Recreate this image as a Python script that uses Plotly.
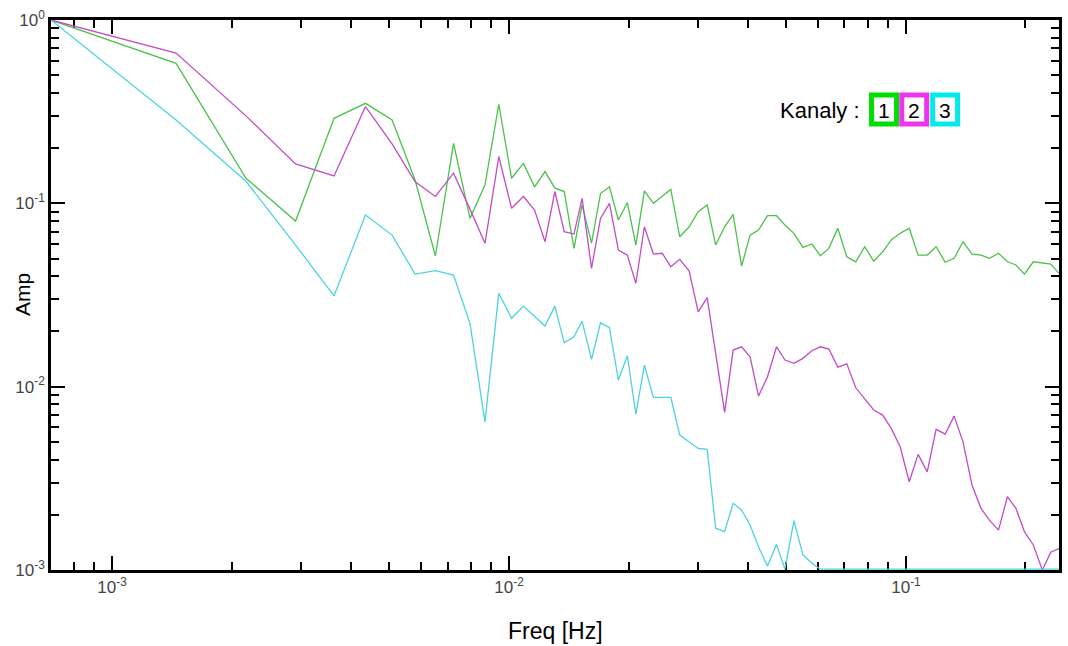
import math
import plotly.graph_objects as go

# ---------------- data ----------------
freq = [0.000702, 0.00145, 0.002175, 0.0029, 0.003625, 0.00435, 0.005075, 0.0058,
        0.006525, 0.00725, 0.007975, 0.0087, 0.009425, 0.01015, 0.010875, 0.0116,
        0.012325, 0.01305, 0.013775, 0.01458, 0.01528, 0.01614, 0.0170, 0.01791,
        0.01886, 0.01987, 0.02087, 0.02193, 0.0231, 0.02433, 0.02556, 0.02692,
        0.02844, 0.02996, 0.03157, 0.03316, 0.03493, 0.03669, 0.03854, 0.04048,
        0.04252, 0.04479, 0.04719, 0.04957, 0.05221, 0.0550, 0.05794, 0.06086,
        0.06393, 0.06734, 0.07094, 0.07473, 0.07872, 0.08293, 0.08736, 0.09177,
        0.0967, 0.1019, 0.1073, 0.1131, 0.1191, 0.1255, 0.1322, 0.1392,
        0.1467, 0.1545, 0.1623, 0.171, 0.1801, 0.1892, 0.1987, 0.2093,
        0.2205, 0.2316, 0.2429]

amp_ch1 = [1.0, 0.58, 0.137, 0.080, 0.291, 0.351, 0.285, 0.134,
           0.0516, 0.2125, 0.0828, 0.126, 0.347, 0.137, 0.165, 0.123,
           0.149, 0.121, 0.116, 0.0568, 0.098, 0.0607, 0.113, 0.123,
           0.0811, 0.101, 0.0592, 0.117, 0.100, 0.110, 0.119, 0.0657,
           0.0745, 0.090, 0.098, 0.0592, 0.0745, 0.0871, 0.0455, 0.0671,
           0.0715, 0.0856, 0.0856, 0.0761, 0.0686, 0.0575, 0.060, 0.0518,
           0.0568, 0.0731, 0.0511, 0.048, 0.058, 0.0484, 0.0544, 0.0631,
           0.0686, 0.0731, 0.0522, 0.0522, 0.058, 0.0477, 0.0501, 0.0617,
           0.0529, 0.0522, 0.0501, 0.0534, 0.048, 0.0461, 0.0411, 0.048,
           0.0471, 0.0466, 0.0415]

amp_ch2 = [1.0, 0.66, 0.30, 0.164, 0.141, 0.337, 0.211, 0.131,
           0.109, 0.146, 0.093, 0.0605, 0.180, 0.094, 0.109, 0.092,
           0.0617, 0.116, 0.070, 0.068, 0.1065, 0.0442, 0.0828, 0.100,
           0.0556, 0.0522, 0.0366, 0.0745, 0.0529, 0.0534, 0.0451, 0.0495,
           0.0427, 0.0256, 0.0306, 0.0149, 0.00724, 0.01584, 0.0165, 0.01456,
           0.00889, 0.01132, 0.0165, 0.01397, 0.0134, 0.01427, 0.0157, 0.0165,
           0.01604, 0.01279, 0.01333, 0.00986, 0.00864, 0.00746, 0.0070, 0.00592,
           0.0047, 0.00303, 0.00427, 0.00343, 0.00585, 0.00551, 0.00691, 0.0050,
           0.0029, 0.00217, 0.00187, 0.00165, 0.00251, 0.00217, 0.00162, 0.00137,
           0.00100, 0.00125, 0.00131]

amp_ch3 = [1.0, 0.285, 0.132, 0.0592, 0.0313, 0.0863, 0.0671, 0.0411,
           0.0429, 0.0406, 0.0221, 0.00643, 0.0323, 0.0236, 0.0275, 0.0241,
           0.0214, 0.0275, 0.01736, 0.01872, 0.0228, 0.0141, 0.0223, 0.021,
           0.01086, 0.01474, 0.00709, 0.01311, 0.00874, 0.00874, 0.00874, 0.00544,
           0.00499, 0.0046, 0.00455, 0.00169, 0.00162, 0.00231, 0.00212, 0.00176,
           0.00134, 0.00105, 0.00138, 0.00101, 0.00186, 0.00121, 0.00109, 0.00101,
           0.00101, 0.00101, 0.00101, 0.00101, 0.00101, 0.00101, 0.00101, 0.00101,
           0.00101, 0.00101, 0.00101, 0.00101, 0.00101, 0.00101, 0.00101, 0.00101,
           0.00101, 0.00101, 0.00101, 0.00101, 0.00101, 0.00101, 0.00101, 0.00101,
           0.00101, 0.00101, 0.00101]

channel_names = ["1", "2", "3"]
x_ticks = [1e-3, 1e-2, 1e-1]
x_ticktext = ["10<sup>-3</sup>", "10<sup>-2</sup>", "10<sup>-1</sup>"]
y_ticks = [1e-3, 1e-2, 1e-1, 1e0]
y_ticktext = ["10<sup>-3</sup>", "10<sup>-2</sup>", "10<sup>-1</sup>", "10<sup>0</sup>"]
x_range = [0.000702, 0.2429]
y_range = [1e-3, 1.0]

# ---------------- styling ----------------
line_colors = ["#4cc24c", "#c24cc8", "#4fd2e0"]
box_colors = ["#00dd00", "#ee33ee", "#00eaea"]
FONT = "Liberation Sans, Arial, sans-serif"

W, H = 1068, 646
L, R, T, B = 51, 1062, 20, 570   # plot area in pixels


def px_x(p):
    return (p - L) / (R - L)


def px_y(p):
    return (B - p) / (B - T)


fig = go.Figure()
for amps, col, name in zip([amp_ch1, amp_ch2, amp_ch3], line_colors, channel_names):
    fig.add_trace(go.Scatter(x=freq, y=amps, mode="lines", name=name,
                             line=dict(color=col, width=1.3), showlegend=False))

minor_x = [m * 10.0 ** e for e in (-4, -3, -2, -1) for m in range(2, 10)]
minor_y = [m * 10.0 ** e for e in (-3, -2, -1) for m in range(2, 10)]

axis_common = dict(type="log", showgrid=False, zeroline=False,
                   showline=True, linecolor="black", linewidth=2.5,
                   mirror="allticks", ticks="inside", ticklen=14, tickwidth=2,
                   tickcolor="black", layer="below traces",
                   tickfont=dict(family=FONT, size=17, color="#444444"))

fig.update_xaxes(range=[math.log10(x_range[0]), math.log10(x_range[1])],
                 tickvals=x_ticks, ticktext=x_ticktext,
                 minor=dict(tickvals=minor_x, ticks="inside", ticklen=8,
                            tickwidth=1.5, tickcolor="black", showgrid=False),
                 **axis_common)
fig.update_yaxes(range=[math.log10(y_range[0]), math.log10(y_range[1])],
                 tickvals=y_ticks, ticktext=y_ticktext,
                 minor=dict(tickvals=minor_y, ticks="inside", ticklen=8,
                            tickwidth=1.5, tickcolor="black", showgrid=False),
                 **axis_common)

annotations = [
    dict(text="Amp", x=px_x(22), y=px_y(295), xref="paper", yref="paper",
         showarrow=False, textangle=-90, xanchor="center", yanchor="middle",
         font=dict(family=FONT, size=21, color="black")),
    dict(text="Freq [Hz]", x=px_x(557), y=px_y(631), xref="paper", yref="paper",
         showarrow=False, xanchor="center", yanchor="middle",
         font=dict(family=FONT, size=23, color="black")),
    dict(text="Kanaly :", x=px_x(864), y=px_y(111), xref="paper", yref="paper",
         showarrow=False, xanchor="right", yanchor="middle",
         font=dict(family=FONT, size=22, color="black")),
]

shapes = []
box_centers = [886.5, 916.8, 947.8]
for cx, col, name in zip(box_centers, box_colors, channel_names):
    shapes.append(dict(type="rect", xref="paper", yref="paper",
                       x0=px_x(cx - 12.5), x1=px_x(cx + 12.5),
                       y0=px_y(124), y1=px_y(95),
                       line=dict(color=col, width=5), fillcolor="white"))
    annotations.append(dict(text=name, x=px_x(cx), y=px_y(110), xref="paper",
                            yref="paper", showarrow=False, xanchor="center",
                            yanchor="middle",
                            font=dict(family=FONT, size=21, color="black")))

fig.update_layout(width=W, height=H, margin=dict(l=L, r=W - R, t=T, b=H - B),
                  paper_bgcolor="white", plot_bgcolor="white",
                  annotations=annotations, shapes=shapes)

fig.write_html("out.html", config={"displayModeBar": False},
               post_script="document.body.style.margin='0px';"
                           "document.body.style.overflow='hidden';")
